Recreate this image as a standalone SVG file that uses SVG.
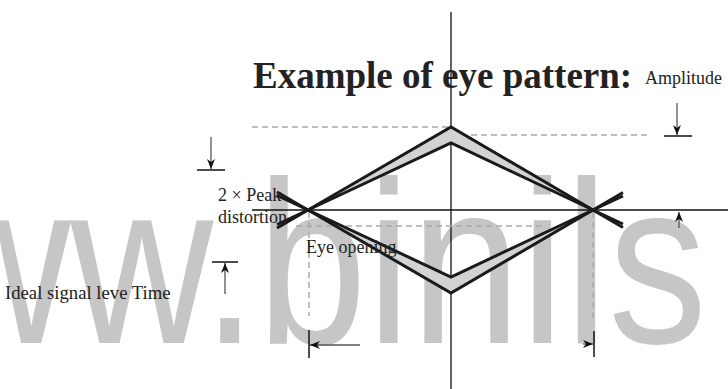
<svg xmlns="http://www.w3.org/2000/svg" width="728" height="389" viewBox="0 0 728 389">
<defs>
<marker id="ah" viewBox="0 0 10 8" refX="10" refY="4" markerWidth="10" markerHeight="8" markerUnits="userSpaceOnUse" orient="auto"><path d="M0,0 L10,4 L0,8 L3,4 Z" fill="#111"/></marker>
<style>
.wm{font-family:"Liberation Sans",Arial,sans-serif;font-size:232px;fill:#c6c6c6}
.t{font-family:"Liberation Serif","Times New Roman",serif;font-size:18px;fill:#222}
.title{font-family:"Liberation Serif","Times New Roman",serif;font-weight:bold;font-size:37px;fill:#222}
.axis{stroke:#111;stroke-width:1.3;fill:none}
.dash{stroke:#aaa;stroke-width:1.5;stroke-dasharray:6 4;fill:none}
.eye{stroke:#1a1a1a;stroke-width:3;fill:none;stroke-linejoin:miter}
.band{fill:#d2d3d5;stroke:none}
.shaft{stroke:#555;stroke-width:1.3;fill:none}
.bar{stroke:#111;stroke-width:1.5;fill:none}
</style>
</defs>
<rect width="728" height="389" fill="#fff"/>
<text class="wm" transform="translate(-72,343) scale(0.851,1)">ww.binils</text>

<g id="connectors">
<line class="axis" x1="451" y1="12" x2="451" y2="389"/>
<line class="axis" x1="252" y1="210" x2="728" y2="210"/>
<line class="dash" x1="252" y1="127" x2="451" y2="127"/>
<line class="dash" x1="451" y1="135" x2="650" y2="135"/>
<line class="dash" x1="296" y1="226" x2="543" y2="226"/>
<line class="dash" x1="309" y1="212" x2="309" y2="316"/>
<line class="dash" x1="593" y1="212" x2="593" y2="318"/>
</g>

<g id="eye">
<polygon class="band" points="308,210 451,127 593,210 451,143"/>
<polygon class="band" points="308,210 451,277 593,210 451,293"/>
<polyline class="eye" points="277,228 308,210 451,127 593,210 623,227.5"/>
<polyline class="eye" points="277,224.5 308,210 451,143 593,210 623,224"/>
<polyline class="eye" points="277,195.5 308,210 451,277 593,210 623,196"/>
<polyline class="eye" points="277,192 308,210 451,293 593,210 623,192.5"/>
</g>

<g id="peak-arrow">
<line class="shaft" x1="211" y1="137" x2="211" y2="169" marker-end="url(#ah)"/>
<line class="bar" x1="197" y1="170" x2="225" y2="170"/>
</g>
<g id="level-arrow">
<line class="shaft" x1="225" y1="294" x2="225" y2="263" marker-end="url(#ah)"/>
<line class="bar" x1="212" y1="262" x2="238" y2="262"/>
</g>
<g id="amplitude-arrow">
<line class="shaft" x1="677" y1="103" x2="677" y2="135" marker-end="url(#ah)"/>
<line class="bar" x1="664" y1="136" x2="692" y2="136"/>
<line class="shaft" x1="679" y1="228" x2="679" y2="212" stroke="#ddd" marker-end="url(#ah)"/>
</g>
<g id="time-arrows">
<line class="bar" x1="309" y1="330" x2="309" y2="358"/>
<line class="shaft" x1="360" y1="345" x2="310" y2="345" marker-end="url(#ah)"/>
<line class="bar" x1="594" y1="331" x2="594" y2="357"/>
<line class="shaft" x1="583" y1="344" x2="593" y2="344" stroke="none" marker-end="url(#ah)"/>
</g>

<g id="labels">
<text class="title" x="253" y="88">Example of eye pattern:</text>
<text class="t" x="645" y="84">Amplitude</text>
<text class="t" x="218" y="201">2 × Peak</text>
<text class="t" x="218" y="223">distortion</text>
<text class="t" x="306" y="253">Eye opening</text>
<text class="t" x="5" y="299" style="font-size:18.7px">Ideal signal leve Time</text>
</g>
</svg>
